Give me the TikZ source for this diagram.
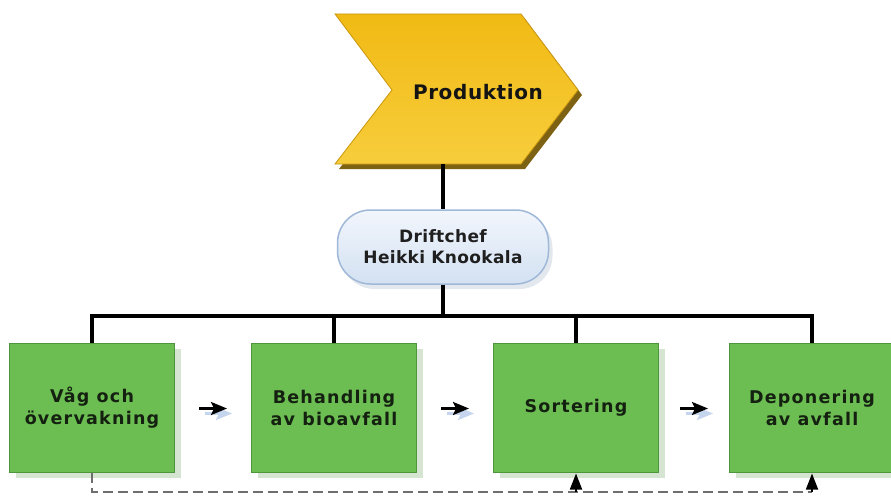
\documentclass[tikz,border=0pt]{standalone}
\usepackage{fontspec}
\setmainfont{DejaVu Sans}
\newfontfamily\headfont{DejaVu Sans}[LetterSpace=3]
\newfontfamily\boxfont{DejaVu Sans}[LetterSpace=7]
\newfontfamily\chieffont{DejaVu Sans}[LetterSpace=2]
\usetikzlibrary{arrows.meta,calc}

\definecolor{goldtop}{HTML}{F1BA14}
\definecolor{goldbot}{HTML}{F7CD3C}
\definecolor{goldline}{HTML}{C9960C}
\definecolor{goldshadow}{HTML}{7E6214}
\definecolor{boxgreen}{HTML}{6CBE53}
\definecolor{boxline}{HTML}{4D963B}
\definecolor{boxshadow}{HTML}{D5E5D1}
\definecolor{boxtext}{HTML}{142010}
\definecolor{chieftop}{HTML}{F2F6FC}
\definecolor{chiefbot}{HTML}{D3E1F2}
\definecolor{chiefline}{HTML}{9FB8D8}
\definecolor{chiefshadow}{HTML}{E3E8EF}
\definecolor{arrowshadow}{HTML}{C5D5EE}
\definecolor{dashgrey}{HTML}{6E6E6E}

\tikzset{
  unit/.style={rectangle, fill=boxgreen, draw=boxline, line width=1pt,
    minimum width=165pt, minimum height=129pt, align=center,
    text=boxtext, font=\boxfont\bfseries\fontsize{17.5}{22}\selectfont},
  unitshadow/.style={rectangle, fill=boxshadow,
    minimum width=165pt, minimum height=129pt},
  chief/.style={rectangle, rounded corners=33pt, draw=chiefline, line width=1.5pt,
    top color=chieftop, bottom color=chiefbot,
    minimum width=211pt, minimum height=74pt, align=center,
    text=black!88, font=\chieffont\bfseries\fontsize{17}{21}\selectfont},
  chiefshade/.style={rectangle, rounded corners=33pt, fill=chiefshadow,
    minimum width=211pt, minimum height=74pt},
  orgline/.style={line width=3.2pt, black},
  flowarrow/.style={line width=2.4pt, black, -{Stealth[length=16pt,width=13pt,inset=3pt]}},
  flowshade/.style={line width=2.4pt, arrowshadow, -{Stealth[length=16pt,width=13pt,inset=3pt]}},
  feedback/.style={line width=1.8pt, dashgrey, dash pattern=on 10pt off 5pt},
  feedtip/.style={line width=1.8pt, black, -{Triangle[length=16pt,width=12pt]}},
}

\begin{document}
\begin{tikzpicture}[x=1pt,y=-1pt]
\clip (0,0) rectangle (891,500);
\fill[white] (0,0) rectangle (891,500);

% process chevron
\fill[goldshadow] (339,19) -- (525,19) -- (582,95) -- (525,169) -- (339,169) -- (396,95) -- cycle;
\shade[top color=goldtop, bottom color=goldbot, draw=goldline, line width=0.8pt]
  (335,14) -- (521,14) -- (578,90) -- (521,164) -- (335,164) -- (392,90) -- cycle;
\node[font=\headfont\bfseries\fontsize{20}{24}\selectfont, text=black!92] (prod) at (478,92) {Produktion};
\coordinate (chevbot) at (443,164);

% manager
\node[chiefshade] at (447,252) {};
\node[chief] (drift) at (443,247) {Driftchef\\Heikki Knookala};

% units
\foreach \cx in {92,334,576,812} {
  \node[unitshadow] at (\cx+6,413.5) {};
}
\node[unit] (b1) at (92,407.5)  {Våg och\\övervakning};
\node[unit] (b2) at (334,407.5) {Behandling\\av bioavfall};
\node[unit] (b3) at (576,407.5) {Sortering};
\node[unit] (b4) at (812,407.5) {Deponering\\av avfall};

% organisation lines
\coordinate (bus) at (443,316);
\draw[orgline] (chevbot) -- (drift.north);
\draw[orgline] (drift.south) -- (bus);
\draw[orgline] (b1.north) -- (b1.north |- bus) -- (b4.north |- bus) -- (b4.north);
\draw[orgline] (b2.north) -- (b2.north |- bus);
\draw[orgline] (b3.north) -- (b3.north |- bus);

% flow between units
\foreach \a/\b in {b1/b2, b2/b3, b3/b4} {
  \coordinate (m) at ($(\a.east)!0.5!(\b.west)$);
  \draw[flowshade] ($(m)+(-8,6)$) -- ($(m)+(19,6)$);
  \draw[flowarrow] ($(m)+(-14,1)$) -- ($(m)+(14,1)$);
}

% feedback line
\coordinate (dashy) at (443,492);
\draw[feedback] (b1.south) -- (b1.south |- dashy) -- (b4.south |- dashy);
\draw[feedtip] (b3.south |- dashy) -- ([yshift=-1pt]b3.south);
\draw[feedtip] (b4.south |- dashy) -- ([yshift=-1pt]b4.south);
\end{tikzpicture}
\end{document}
